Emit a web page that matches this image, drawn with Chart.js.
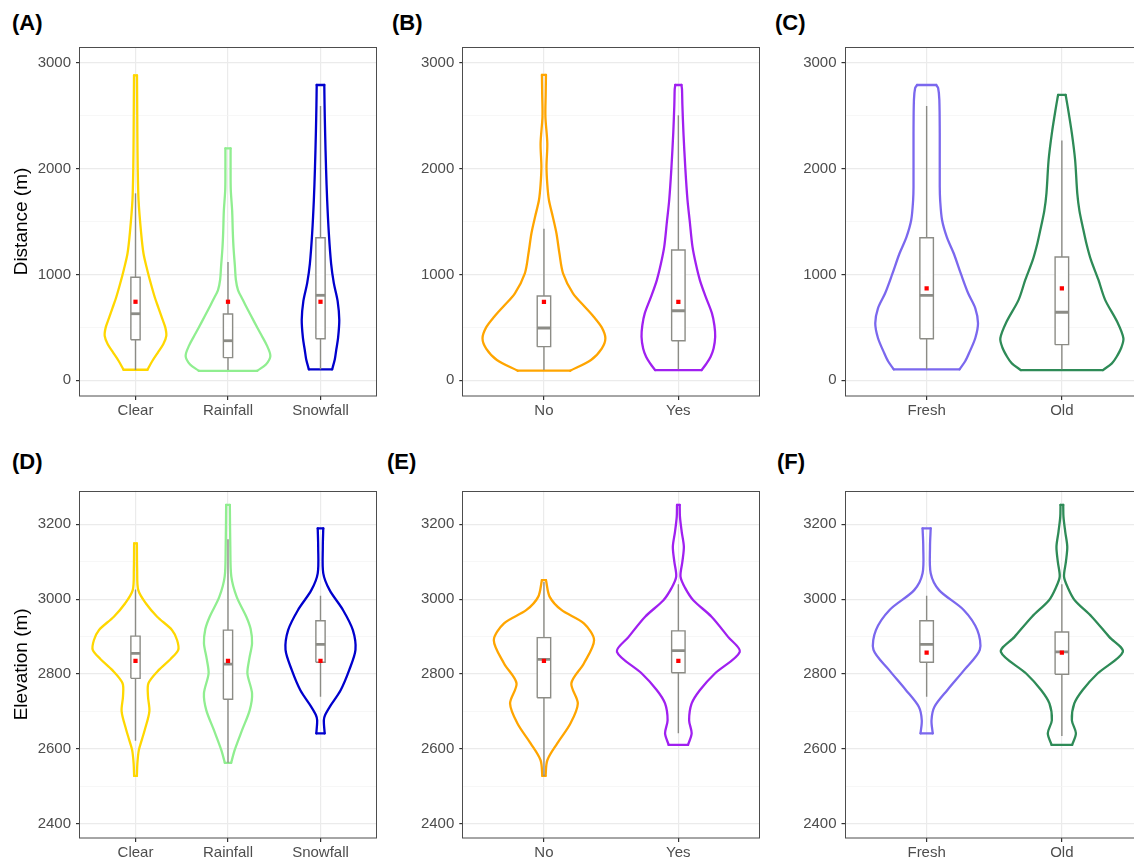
<!DOCTYPE html>
<html><head><meta charset="utf-8">
<script src="https://cdn.jsdelivr.net/npm/chart.js@4.4.1/dist/chart.umd.min.js"></script>
<style>
html,body{margin:0;padding:0;background:#fff;overflow:hidden;width:1134px;height:860px;position:relative;}
canvas{position:absolute;}
.lbl{position:absolute;font:bold 22px "Liberation Sans",Arial,sans-serif;color:#000;line-height:1;white-space:nowrap;}
</style></head><body>
<div class="lbl" style="left:12px;top:12px">(A)</div>
<div class="lbl" style="left:392px;top:12px">(B)</div>
<div class="lbl" style="left:775px;top:12px">(C)</div>
<div class="lbl" style="left:12px;top:451px">(D)</div>
<div class="lbl" style="left:387px;top:451px">(E)</div>
<div class="lbl" style="left:777px;top:451px">(F)</div>
<canvas id="cA" width="380" height="430" style="left:0px;top:0px"></canvas>
<canvas id="cB" width="383" height="430" style="left:380px;top:0px"></canvas>
<canvas id="cC" width="384" height="430" style="left:763px;top:0px"></canvas>
<canvas id="cD" width="380" height="442" style="left:0px;top:430px"></canvas>
<canvas id="cE" width="383" height="442" style="left:380px;top:430px"></canvas>
<canvas id="cF" width="384" height="442" style="left:763px;top:430px"></canvas>
<script>
// ---------- categories ----------
const weatherCats = ['Clear', 'Rainfall', 'Snowfall'];
const noYesCats = ['No', 'Yes'];
const ageCats = ['Fresh', 'Old'];

// ---------- colours ----------
const weatherColors = ['#FFD700', '#90EE90', '#0000CD'];
const noYesColors = ['#FFA500', '#A020F0'];
const ageColors = ['#7B68EE', '#2E8B57'];

// ---------- Distance (m): violin outline levels and half-widths ----------
const distClearY = [100, 180, 260, 340, 420, 500, 580, 680, 780, 900, 1050, 1200, 1400, 1700, 2000, 2350, 2650, 2880];
const distClearW = [0.13, 0.18, 0.24, 0.3, 0.333, 0.322, 0.29, 0.25, 0.21, 0.17, 0.125, 0.086, 0.06, 0.033, 0.024, 0.02, 0.018, 0.016];
const distRainY = [90, 150, 230, 330, 444, 550, 664, 760, 853, 950, 1073, 1250, 1400, 1600, 1800, 2000, 2190];
const distRainW = [0.316, 0.41, 0.458, 0.42, 0.35, 0.285, 0.216, 0.16, 0.108, 0.085, 0.075, 0.06, 0.052, 0.045, 0.03, 0.028, 0.028];
const distSnowY = [104, 200, 286, 400, 570, 750, 918, 1100, 1390, 1700, 2000, 2335, 2600, 2789];
const distSnowW = [0.126, 0.155, 0.17, 0.19, 0.203, 0.185, 0.144, 0.115, 0.09, 0.072, 0.06, 0.05, 0.044, 0.041];
const distNoY = [91, 192, 300, 397, 500, 601, 700, 822, 1011, 1200, 1389, 1550, 1703, 1850, 2018, 2238, 2490, 2700, 2884];
const distNoW = [0.195, 0.35, 0.43, 0.457, 0.43, 0.37, 0.3, 0.216, 0.142, 0.115, 0.093, 0.065, 0.037, 0.025, 0.019, 0.025, 0.011, 0.013, 0.015];
const distYesY = [97, 160, 223, 300, 412, 520, 633, 800, 947, 1100, 1262, 1500, 1703, 2000, 2333, 2600, 2750, 2789];
const distYesW = [0.173, 0.21, 0.24, 0.262, 0.274, 0.268, 0.25, 0.2, 0.16, 0.13, 0.105, 0.085, 0.068, 0.052, 0.038, 0.03, 0.027, 0.023];
const distFreshY = [104, 180, 255, 400, 538, 680, 822, 1000, 1200, 1350, 1514, 1700, 1829, 2333, 2648, 2760, 2789];
const distFreshW = [0.243, 0.285, 0.313, 0.36, 0.38, 0.36, 0.307, 0.255, 0.2, 0.15, 0.114, 0.1, 0.097, 0.097, 0.094, 0.085, 0.071];
const distOldY = [97, 160, 223, 310, 397, 550, 760, 950, 1137, 1300, 1451, 1600, 1766, 2081, 2333, 2585, 2680, 2695];
const distOldW = [0.304, 0.37, 0.405, 0.44, 0.455, 0.41, 0.32, 0.27, 0.215, 0.18, 0.154, 0.13, 0.114, 0.098, 0.074, 0.043, 0.03, 0.028];

// ---------- Elevation (m): violin outline levels and half-widths ----------
const elevClearY = [2527, 2560, 2596, 2625, 2650, 2700, 2740, 2775, 2810, 2840, 2864, 2890, 2917, 2953, 2989, 3024, 3078, 3149];
const elevClearW = [0.015, 0.02, 0.036, 0.07, 0.1, 0.15, 0.135, 0.14, 0.25, 0.38, 0.462, 0.45, 0.396, 0.234, 0.111, 0.03, 0.018, 0.015];
const elevRainY = [2562, 2596, 2650, 2703, 2748, 2801, 2840, 2882, 2920, 2953, 3006, 3060, 3140, 3252];
const elevRainW = [0.034, 0.072, 0.153, 0.235, 0.26, 0.21, 0.23, 0.26, 0.245, 0.198, 0.094, 0.036, 0.025, 0.02];
const elevSnowY = [2641, 2676, 2690, 2712, 2757, 2810, 2864, 2917, 2971, 3024, 3069, 3140, 3189];
const elevSnowW = [0.045, 0.036, 0.05, 0.1, 0.219, 0.31, 0.378, 0.35, 0.243, 0.099, 0.03, 0.025, 0.03];
const elevNoY = [2527, 2569, 2614, 2668, 2721, 2775, 2828, 2890, 2935, 2971, 3006, 3051];
const elevNoW = [0.012, 0.025, 0.099, 0.198, 0.252, 0.204, 0.297, 0.373, 0.297, 0.13, 0.043, 0.015];
const elevYesY = [2610, 2641, 2676, 2721, 2757, 2801, 2859, 2899, 2953, 2997, 3030, 3060, 3100, 3140, 3180, 3220, 3252];
const elevYesW = [0.072, 0.099, 0.08, 0.099, 0.161, 0.272, 0.457, 0.37, 0.247, 0.111, 0.05, 0.016, 0.03, 0.041, 0.025, 0.012, 0.01];
const elevFreshY = [2641, 2676, 2712, 2757, 2810, 2864, 2917, 2971, 3024, 3069, 3140, 3189];
const elevFreshW = [0.045, 0.036, 0.058, 0.154, 0.277, 0.393, 0.375, 0.274, 0.092, 0.03, 0.025, 0.03];
const elevOldY = [2610, 2641, 2676, 2721, 2757, 2801, 2859, 2899, 2953, 2997, 3030, 3060, 3100, 3140, 3180, 3220, 3252];
const elevOldW = [0.076, 0.104, 0.074, 0.092, 0.154, 0.264, 0.451, 0.35, 0.221, 0.095, 0.045, 0.016, 0.03, 0.04, 0.025, 0.012, 0.01];

// ---------- box stats: [lower whisker, Q1, median, Q3, upper whisker] ----------
const distWeatherBox = [[97, 383, 629, 973, 1766], [97, 214, 374, 626, 1117], [104, 393, 803, 1347, 2591]];
const distNoYesBox = [[97, 318, 494, 796, 1432], [104, 374, 657, 1231, 2503]];
const distAgeBox = [[104, 393, 803, 1347, 2591], [104, 337, 643, 1165, 2264]];
const elevWeatherBox = [[2621, 2788, 2855, 2901, 3026], [2562, 2732, 2826, 2917, 3160], [2739, 2831, 2879, 2942, 3009]];
const elevNoYesBox = [[2527, 2736, 2839, 2897, 3046], [2641, 2803, 2862, 2915, 3040]];
const elevAgeBox = [[2739, 2831, 2879, 2942, 3009], [2634, 2799, 2859, 2912, 3040]];

// ---------- means (red squares) ----------
const distWeatherMean = [742, 742, 742];
const distNoYesMean = [742, 742];
const distAgeMean = [869, 869];
const elevWeatherMean = [2835, 2835, 2835];
const elevNoYesMean = [2835, 2835];
const elevAgeMean = [2857, 2857];

// ---------- axis ranges / ticks ----------
const distRange = [-148, 3148]; const distMajor = 1000; const distMinor = 500;
const elevRange = [2361, 3290]; const elevMajor = 200; const elevMinor = 100;

const FONT = '"Liberation Sans", Arial, Helvetica, sans-serif';
const BOXCOL = '#8c8c86';
Chart.defaults.font.family = FONT;

const borderPlugin = {
  id: 'panelBorder',
  afterDatasetsDraw(chart) {
    const {ctx, chartArea: a} = chart;
    ctx.save();
    ctx.strokeStyle = '#4d4d4d';
    ctx.lineWidth = 1;
    ctx.strokeRect(Math.round(a.left) - 0.5, Math.round(a.top) + 0.5, Math.round(a.right - a.left) + 1, Math.round(a.bottom - a.top) - 0.5);
    ctx.restore();
  }
};

function makePanel(id, cats, vY, vW, colors, boxes, means, range, major, minor, yTitle, yWidth, pad) {
  const datasets = [];
  cats.forEach((c, i) => {
    const cx = i + 1;
    const ys = vY[i], ws = vW[i];
    const n = ys.length;
    const right = ys.map((y, k) => ({x: cx + ws[k], y}));
    const left = ys.map((y, k) => ({x: cx - ws[k], y}));
    const vStyle = {borderColor: colors[i], borderWidth: 2.3, pointRadius: 0, fill: false, order: 5, borderCapStyle: 'round', borderJoinStyle: 'round'};
    datasets.push(Object.assign({data: right, tension: 0.3}, vStyle));
    datasets.push(Object.assign({data: left, tension: 0.3}, vStyle));
    datasets.push(Object.assign({data: [left[0], right[0]], tension: 0}, vStyle));
    datasets.push(Object.assign({data: [left[n - 1], right[n - 1]], tension: 0}, vStyle));
    const b = boxes[i];
    const hw = 0.05;
    datasets.push({data: [{x: cx, y: b[0]}, {x: cx, y: b[1]}], borderColor: BOXCOL, borderWidth: 1.4, pointRadius: 0, tension: 0, fill: false, order: 4});
    datasets.push({data: [{x: cx, y: b[3]}, {x: cx, y: b[4]}], borderColor: BOXCOL, borderWidth: 1.4, pointRadius: 0, tension: 0, fill: false, order: 4});
    datasets.push({data: [{x: cx - hw, y: b[1]}, {x: cx + hw, y: b[1]}, {x: cx + hw, y: b[3]}, {x: cx - hw, y: b[3]}, {x: cx - hw, y: b[1]}],
      borderColor: BOXCOL, backgroundColor: '#ffffff', fill: 'shape', borderWidth: 1.4, borderJoinStyle: 'miter', pointRadius: 0, tension: 0, order: 3});
    datasets.push({data: [{x: cx - hw, y: b[2]}, {x: cx + hw, y: b[2]}], borderColor: BOXCOL, borderWidth: 2.8, borderCapStyle: 'butt', pointRadius: 0, tension: 0, fill: false, order: 2});
  });
  datasets.push({data: means.map((m, i) => ({x: i + 1, y: m})), showLine: false, pointStyle: 'rect', pointRadius: 3,
    pointBackgroundColor: '#ff0000', pointBorderColor: '#ff0000', pointBorderWidth: 0, order: 1});

  const isMajor = v => Math.abs(v % major) < 1e-6;
  new Chart(document.getElementById(id), {
    type: 'line',
    data: {datasets},
    options: {
      responsive: false, animation: false, events: [], devicePixelRatio: 1,
      layout: {padding: pad},
      plugins: {legend: {display: false}, tooltip: {enabled: false}, title: {display: false}},
      scales: {
        x: {
          type: 'linear', min: 0.4, max: cats.length + 0.6,
          afterBuildTicks: s => { s.ticks = cats.map((c, i) => ({value: i + 1})); },
          afterFit: s => { s.height = 34; },
          ticks: {callback: v => cats[Math.round(v) - 1], color: '#4d4d4d', font: {family: FONT, size: 15}, padding: 2, maxRotation: 0, autoSkip: false},
          grid: {color: '#ebebeb', lineWidth: 1.2, tickColor: '#333333', tickLength: 4, tickWidth: 1.2},
          border: {display: false}
        },
        y: {
          type: 'linear', min: range[0], max: range[1],
          afterBuildTicks: s => {
            const t = [];
            for (let v = Math.ceil(range[0] / minor) * minor; v <= range[1]; v += minor) t.push({value: v});
            s.ticks = t;
          },
          afterFit: s => { s.width = yWidth; },
          ticks: {callback: v => (isMajor(v) ? String(Math.round(v)) : ''), color: '#4d4d4d', font: {family: FONT, size: 15}, padding: 5, autoSkip: false},
          grid: {
            color: c => (c.tick && isMajor(c.tick.value)) ? '#ebebeb' : '#f3f3f3',
            lineWidth: c => (c.tick && isMajor(c.tick.value)) ? 1.2 : 0.7,
            tickColor: c => (c.tick && isMajor(c.tick.value)) ? '#333333' : 'rgba(0,0,0,0)',
            tickLength: 4, tickWidth: 1.2
          },
          border: {display: false},
          title: yTitle ? {display: true, text: yTitle, color: '#000000', font: {family: FONT, size: 19}, padding: {top: 10.3, bottom: 0}} : {display: false}
        }
      }
    },
    plugins: [borderPlugin]
  });
}

const topPad = {left: 0, top: 47, bottom: 0};
const botPad = {left: 0, top: 60.7, bottom: 0};

makePanel('cA', weatherCats, [distClearY, distRainY, distSnowY], [distClearW, distRainW, distSnowW], weatherColors,
  distWeatherBox, distWeatherMean, distRange, distMajor, distMinor, 'Distance (m)', 80, Object.assign({right: 3.3}, topPad));
makePanel('cB', noYesCats, [distNoY, distYesY], [distNoW, distYesW], noYesColors,
  distNoYesBox, distNoYesMean, distRange, distMajor, distMinor, null, 83.3, Object.assign({right: 3}, topPad));
makePanel('cC', ageCats, [distFreshY, distOldY], [distFreshW, distOldW], ageColors,
  distAgeBox, distAgeMean, distRange, distMajor, distMinor, null, 82.5, Object.assign({right: 3.5}, topPad));
makePanel('cD', weatherCats, [elevClearY, elevRainY, elevSnowY], [elevClearW, elevRainW, elevSnowW], weatherColors,
  elevWeatherBox, elevWeatherMean, elevRange, elevMajor, elevMinor, 'Elevation (m)', 80, Object.assign({right: 3.3}, botPad));
makePanel('cE', noYesCats, [elevNoY, elevYesY], [elevNoW, elevYesW], noYesColors,
  elevNoYesBox, elevNoYesMean, elevRange, elevMajor, elevMinor, null, 83.3, Object.assign({right: 3}, botPad));
makePanel('cF', ageCats, [elevFreshY, elevOldY], [elevFreshW, elevOldW], ageColors,
  elevAgeBox, elevAgeMean, elevRange, elevMajor, elevMinor, null, 82.5, Object.assign({right: 3.5}, botPad));
</script>
</body></html>
